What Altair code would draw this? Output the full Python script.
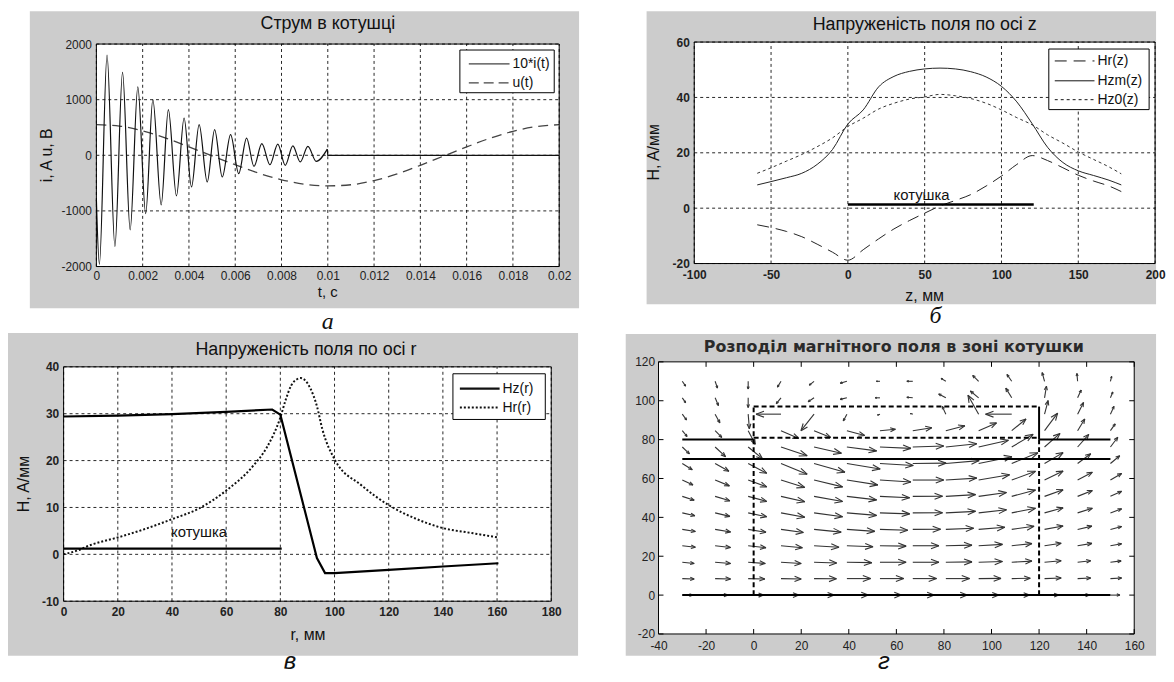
import math
import altair as alt
import pandas as pd

FONT = "Liberation Sans"
SERIF = "Liberation Serif"
PANEL_GRAY = "#cccccc"
INK = "#111111"
ONE = pd.DataFrame({"k": [0]})

# ---------------- panel а : current in the coil ----------------
A_T_OSC = [0, 0.00013, 0.00046, 0.0008, 0.00113, 0.00146, 0.00179, 0.00213, 0.00244, 0.0028,
           0.00311, 0.00346, 0.00379, 0.00411, 0.00444, 0.00479, 0.00511, 0.00544, 0.0058, 0.00615,
           0.00649, 0.00681, 0.00715, 0.0075, 0.00784, 0.00816, 0.00849, 0.00881, 0.00914, 0.0095, 0.00998]
A_I_OSC = [-800, -1960, 1800, -1640, 1490, -1340, 1230, -1050, 1000, -890,
           820, -730, 670, -570, 550, -480, 460, -390, 370, -330,
           310, -200, 210, -170, 200, -180, 170, -120, 160, -110, 110]
A_T_TAIL = [0.00998, 0.01, 0.02]
A_I_TAIL = [110, 0, 0]
A_T_U = [0, 0.001, 0.002, 0.003, 0.004, 0.005, 0.006, 0.007, 0.008, 0.009, 0.01,
         0.011, 0.012, 0.013, 0.014, 0.015, 0.016, 0.017, 0.018, 0.019, 0.02]
A_U = [550, 525, 440, 310, 150, -10, -170, -320, -440, -520, -550,
       -530, -455, -335, -180, -15, 150, 305, 430, 515, 550]
A_XTICKS = [0, 0.002, 0.004, 0.006, 0.008, 0.01, 0.012, 0.014, 0.016, 0.018, 0.02]
A_YTICKS = [-2000, -1000, 0, 1000, 2000]

# ---------------- panel б : field along z ----------------
B_Z = [-59, -50, -40, -30, -20, -10, 0, 10, 20, 30, 40, 50, 60, 70, 80, 90, 100,
       110, 120, 130, 140, 150, 160, 170, 178]
B_HR = [-6, -7, -8.4, -10.3, -13, -15.9, -18.8, -15, -11.1, -7.5, -4.5, -1.8, 0.8,
        2.8, 4.9, 8, 11.6, 15.8, 19, 17.2, 14.6, 11.9, 9.8, 8, 6]
B_HZM = [8.4, 9.6, 11, 12.6, 15.8, 21.2, 30.4, 35.5, 43.8, 47.6, 49.4, 50.3, 50.6,
         50.3, 49.3, 47.4, 44, 38.4, 30.5, 22, 16.5, 13.5, 11.8, 10.1, 8.4]
B_HZ0 = [12.6, 14.6, 17, 19.4, 22.2, 25.4, 29.5, 32.5, 35.8, 37.9, 39.4, 40.2, 41.1,
         40.6, 39.6, 37.9, 35.5, 32.7, 30.1, 26.5, 23.5, 20.3, 17.6, 14.9, 12.4]
B_COIL_Z = [0, 121]
B_COIL_H = [1.3, 1.3]
B_XTICKS = [-100, -50, 0, 50, 100, 150, 200]
B_YTICKS = [-20, 0, 20, 40, 60]

# ---------------- panel в : field along r ----------------
C_R_HZ = [0, 20, 40, 60, 77, 80, 93.5, 96.5, 100, 120, 140, 160.5]
C_HZ = [29.4, 29.6, 29.9, 30.4, 30.9, 29.8, -0.8, -4, -4, -3.3, -2.6, -1.9]
C_R_HR = [0, 5, 10, 20, 30, 40, 50, 60, 70, 75, 80, 82, 84, 86, 87.5, 89, 91, 93.5,
          95.5, 100, 110, 120, 130, 140, 150, 160.5]
C_HR = [0, 0.8, 2, 3.6, 5.4, 7.5, 9.8, 13.6, 18.9, 22.8, 29.2, 33, 36, 37.3, 37.6,
        37.2, 35.5, 31.6, 26.7, 20.3, 14.7, 10.5, 7.6, 5.6, 4.6, 3.6]
C_COIL_R = [0, 80.5]
C_COIL_H = [1.2, 1.2]
C_XTICKS = [0, 20, 40, 60, 80, 100, 120, 140, 160, 180]
C_YTICKS = [-10, 0, 10, 20, 30, 40]

# ---------------- panel г : quiver field ----------------
G_X = [-30, -16.2, -2.3, 11.5, 25.4, 39.2, 53.1, 66.9, 80.8, 94.6, 108.5, 122.3, 136.2, 150]
G_Y = [0, 8.5, 16.9, 25.4, 33.8, 42.3, 50.8, 59.2, 67.7, 76.2, 84.6, 93.1, 101.5, 110]
G_U = [
    [4.5, 5.5, 6.5, 7.5, 8.5, 9, 9, 9, 9, 8.5, 7.5, 6, 5, 4],
    [5, 6.5, 7, 8.5, 9.4, 10, 10, 10, 10, 9.4, 7.8, 7, 5.5, 4.7],
    [5, 6.5, 7.2, 8.5, 9.5, 10.5, 11, 11, 11, 10, 8.5, 7, 5.5, 4.5],
    [5.5, 6.5, 7.5, 9, 10.5, 11, 11, 11, 11, 10, 8.5, 7, 6, 4.7],
    [5.5, 6.5, 7.5, 9.4, 11.4, 11.7, 11.7, 11.7, 11.7, 11, 9.4, 7.8, 6, 4.7],
    [5.3, 6.2, 7.8, 10, 12, 12.5, 12.5, 12.5, 12.5, 11.7, 10, 7.8, 6.2, 4.7],
    [5, 6.2, 7.8, 10, 12, 12.5, 12.5, 12.5, 12.5, 11.7, 10, 7.8, 6.2, 4.7],
    [4.5, 6, 7.8, 10, 12, 13, 13, 13, 13, 13, 10, 7.8, 6.2, 4.7],
    [4.2, 5.8, 7.8, 11, 13, 14, 14, 14, 14, 14, 11, 7.8, 5.5, 3.9],
    [3, 4.4, 6, 11, 11.5, 12.5, 13, 13, 13, 12.5, 9, 6.5, 4.7, 3.1],
    [2, 2.8, 3, 7.5, 7, 7.5, 6.5, 8, 8, 7.5, 6, 5.5, 3, 2],
    [1.8, 2, 0.5, -10.5, -5.5, -1.5, -1, -1, -1.5, -4.5, -11, 1.5, 2.5, 1.5],
    [1.4, 1.4, 0, -2, -2.5, -2.8, -2, -2.5, -3, -3.5, -2.5, 0.8, 1.5, 1],
    [1.4, 1, 0, -1.5, -2, -2.8, -1.5, -2.5, -2, -2.5, -2, -1, -0.3, 0.5],
]
G_V = [
    [0, 0, 0, 0, 0, 0, 0, 0, 0, 0, 0, 0, 0, 0],
    [-0.2, -0.2, -0.2, -0.2, -0.1, 0, 0, 0, 0, 0.1, 0.2, 0.3, 0.3, 0.3],
    [-0.6, -0.6, -0.6, -0.6, -0.4, -0.2, 0, 0, 0.2, 0.4, 0.6, 0.8, 0.8, 0.7],
    [-0.8, -0.9, -1, -1, -0.8, -0.5, -0.2, 0, 0.3, 0.7, 1.1, 1.3, 1.2, 1],
    [-1.1, -1.3, -1.5, -1.6, -1.4, -1, -0.4, 0.1, 0.6, 1.1, 1.6, 1.8, 1.7, 1.5],
    [-1.5, -1.8, -2, -2.2, -2, -1.3, -0.5, 0.1, 0.8, 1.6, 2.4, 2.6, 2.4, 2.1],
    [-2, -2.3, -2.6, -2.8, -2.6, -1.8, -0.7, 0.1, 0.9, 2, 3.3, 3.4, 3, 2.6],
    [-2.5, -3, -3.5, -3.8, -3.5, -2.5, -1, 0, 1, 2.7, 4.5, 4.6, 4, 3.4],
    [-3.2, -4, -5, -5.5, -4.5, -2.8, -1, 0.2, 1.5, 3.5, 5.5, 5.6, 5, 4],
    [-3.5, -5, -6, -4.5, -3.2, -2, -0.7, 0.5, 1.7, 3.5, 6.5, 7, 6.5, 5],
    [-3, -3.5, -7, -4, -3.5, -2.5, 0.7, 1.5, 2.5, 4, 6, 9, 6, 3.5],
    [-3, -4.5, -7.5, 0, -8.5, -3.5, -0.5, 0.3, 4, 9.7, 0, 7, 6, 4],
    [-2.5, -4, -5, -3, -2, -0.8, 0, 0.3, 2, 3.5, 5, 6, 4, 3],
    [-2.5, -3.5, -4, -3, -2, -1, 0, 0, 1.5, 3, 3.5, 4.5, 4, 2.5],
]
G_SOLID = [(-30, 0, 150, 0), (-30, 70, 150, 70), (-30, 80, 0, 80), (120, 80, 150, 80), (120, 80, 120, 97)]
G_DASHED = [(0, 0, 0, 97), (0, 97, 120, 97), (0, 81, 120, 81), (120, 0, 120, 80)]
G_XTICKS = [-40, -20, 0, 20, 40, 60, 80, 100, 120, 140, 160]
G_YTICKS = [-20, 0, 20, 40, 60, 80, 100, 120]

# every panel lives in a cell of the same size; the plot frame inside it is set by scale ranges
CELL_W, CELL_H = 500, 274


# ---------------- helpers ----------------
def make_axis(values, bold=False, offset=0, pad=4):
    kw = dict(values=values, title=None, domain=False, ticks=False, grid=False,
              labelFont=FONT, labelFontSize=12, labelFontWeight="bold" if bold else "normal",
              labelColor="#222222", labelPadding=pad, labelFlush=False, labelOverlap=False,
              labelExpr="'' + datum.value", zindex=1)
    if offset:
        kw["offset"] = offset
    return alt.Axis(**kw)


def gray_bg(x0, x1, y0, y1):
    return alt.Chart(ONE).mark_rect(fill=PANEL_GRAY, strokeWidth=0).encode(
        x=alt.value(x0), x2=alt.value(x1), y=alt.value(y0), y2=alt.value(y1))


def text_at(s, x, y, size=15, angle=0, font=FONT, style="normal", weight="normal", align="center",
            color=INK):
    return alt.Chart(ONE).mark_text(text=s, fontSize=size, font=font, fontStyle=style,
                                    fontWeight=weight, angle=angle, align=align,
                                    baseline="middle", color=color).encode(
        x=alt.value(x), y=alt.value(y))


def legend_box(box, entries, size=13):
    x0, x1, y0, y1 = box
    layers = [alt.Chart(ONE).mark_rect(fill="white", stroke="#000000", strokeWidth=1).encode(
        x=alt.value(x0), x2=alt.value(x1), y=alt.value(y0), y2=alt.value(y1))]
    for lab, ly, lx0, lx1, tx, style in entries:
        kw = dict(color=style.get("color", INK), strokeWidth=style.get("width", 1))
        if style.get("dash"):
            kw["strokeDash"] = style["dash"]
        layers.append(alt.Chart(ONE).mark_rule(**kw).encode(
            x=alt.value(lx0), x2=alt.value(lx1), y=alt.value(ly)))
        layers.append(text_at(lab, tx, ly, size=size, align="left"))
    return layers


class Frame:
    def __init__(self, xlim, ylim, xaxis, yaxis, xrange, yrange):
        self.sx = alt.Scale(domain=xlim, nice=False, zero=False, range=xrange)
        self.sy = alt.Scale(domain=ylim, nice=False, zero=False, range=yrange)
        self.ax = xaxis
        self.ay = yaxis
        self.xlim = xlim
        self.ylim = ylim

    def X(self, f):
        return alt.X(f"{f}:Q", scale=self.sx, axis=self.ax)

    def Y(self, f):
        return alt.Y(f"{f}:Q", scale=self.sy, axis=self.ay)

    def _lim_df(self):
        return pd.DataFrame({"x0": [self.xlim[0]], "x1": [self.xlim[1]],
                             "y0": [self.ylim[0]], "y1": [self.ylim[1]]})

    def plot_bg(self):
        return alt.Chart(self._lim_df()).mark_rect(fill="white", strokeWidth=0).encode(
            x=self.X("x0"), x2="x1", y=self.Y("y0"), y2="y1")

    def plot_box(self):
        return alt.Chart(self._lim_df()).mark_rect(fillOpacity=0, stroke="#000000", strokeWidth=1).encode(
            x=self.X("x0"), x2="x1", y=self.Y("y0"), y2="y1")

    def grid(self, xt, yt):
        style = dict(color="#000000", strokeDash=[3, 3], opacity=0.85, strokeWidth=1)
        dfx = pd.DataFrame({"v": xt, "a": [self.ylim[0]] * len(xt), "b": [self.ylim[1]] * len(xt)})
        dfy = pd.DataFrame({"v": yt, "a": [self.xlim[0]] * len(yt), "b": [self.xlim[1]] * len(yt)})
        return [
            alt.Chart(dfx).mark_rule(**style).encode(x=self.X("v"), y=self.Y("a"), y2="b"),
            alt.Chart(dfy).mark_rule(**style).encode(y=self.Y("v"), x=self.X("a"), x2="b"),
        ]

    def line(self, xs, ys, interp="linear", **style):
        df = pd.DataFrame({"px": xs, "py": ys, "o": list(range(len(xs)))})
        return alt.Chart(df).mark_line(interpolate=interp, **style).encode(
            x=self.X("px"), y=self.Y("py"), order="o:Q")


# ---------------- panel а ----------------
FA = Frame([0, 0.02], [-2000, 2000],
           make_axis(A_XTICKS, offset=-(CELL_H - 226)), make_axis(A_YTICKS, offset=-33, pad=5),
           [33, 499], [226, 2])
panel_a = alt.layer(
    gray_bg(-34, 519, -31, 268),
    FA.plot_bg(),
    *FA.grid(A_XTICKS, A_YTICKS),
    FA.line(A_T_U, A_U, "monotone", color="#444444", strokeWidth=1.3, strokeDash=[10, 6]),
    FA.line(A_T_OSC, A_I_OSC, "monotone", color=INK, strokeWidth=1.2),
    FA.line(A_T_TAIL, A_I_TAIL, color=INK, strokeWidth=1.2),
    *legend_box((399, 494, 8, 51), [
        ("10*i(t)", 22, 408, 449, 452, {}),
        ("u(t)", 41, 408, 449, 452, {"dash": [10, 5], "color": "#444444", "width": 1.3}),
    ], size=14),
    FA.plot_box(),
    text_at("Струм в котушці", 266, -18, size=18),
    text_at("i, A  u, B", -17, 114, size=16, angle=270),
    text_at("t, c", 266, 252, size=15),
    text_at("а", 266, 282, size=24, font=SERIF, style="italic"),
).properties(width=CELL_W, height=CELL_H)

# ---------------- panel б ----------------
FB = Frame([-100, 200], [-20, 60],
           make_axis(B_XTICKS, bold=True, offset=-(CELL_H - 223), pad=6),
           make_axis(B_YTICKS, bold=True, pad=5, offset=-36),
           [36, 500], [223, 0])
panel_b = alt.layer(
    gray_bg(-12, 501, -31, 264),
    FB.plot_bg(),
    *FB.grid(B_XTICKS, B_YTICKS),
    FB.line(B_Z, B_HZ0, "monotone", color="#333333", strokeWidth=1, strokeDash=[3, 3]),
    FB.line(B_Z, B_HZM, "monotone", color="#222222", strokeWidth=1),
    FB.line(B_Z, B_HR, "monotone", color="#222222", strokeWidth=1, strokeDash=[12, 7]),
    FB.line(B_COIL_Z, B_COIL_H, color="#000000", strokeWidth=2.5),
    alt.Chart(pd.DataFrame({"px": [48], "py": [4.6], "t": ["котушка"]})).mark_text(
        fontSize=15, font=FONT, color=INK, baseline="middle").encode(
        x=FB.X("px"), y=FB.Y("py"), text="t:N"),
    *legend_box((393, 494, 7, 68), [
        ("Hr(z)", 19, 399, 439, 442, {"dash": [12, 7]}),
        ("Hzm(z)", 39, 399, 439, 442, {}),
        ("Hz0(z)", 58, 399, 439, 442, {"dash": [3, 3]}),
    ], size=14),
    FB.plot_box(),
    text_at("Напруженість поля по осі z", 268, -17, size=18),
    text_at("H, A/мм", -5, 111, size=16, angle=270),
    text_at("z, мм", 268, 256, size=16),
    text_at("б", 279, 276, size=24, font=SERIF, style="italic"),
).properties(width=CELL_W, height=CELL_H)

# ---------------- panel в ----------------
FC = Frame([0, 180], [-10, 40],
           make_axis(C_XTICKS, bold=True, offset=-(CELL_H - 241), pad=5),
           make_axis(C_YTICKS, bold=True, pad=5),
           [0, 491], [241, 5])
panel_c = alt.layer(
    gray_bg(-56, 518, -29, 296),
    FC.plot_bg(),
    *FC.grid(C_XTICKS, C_YTICKS),
    FC.line(C_R_HR, C_HR, "monotone", color="#111111", strokeWidth=2, strokeDash=[2, 2]),
    FC.line(C_R_HZ, C_HZ, color="#000000", strokeWidth=2.2),
    FC.line(C_COIL_R, C_COIL_H, color="#000000", strokeWidth=2.2),
    alt.Chart(pd.DataFrame({"px": [50], "py": [4.7], "t": ["котушка"]})).mark_text(
        fontSize=15, font=FONT, color=INK, baseline="middle").encode(
        x=FC.X("px"), y=FC.Y("py"), text="t:N"),
    *legend_box((392, 485, 12, 58), [
        ("Hz(r)", 27, 399, 439, 442, {"width": 2.2}),
        ("Hr(r)", 46, 399, 439, 442, {"dash": [2, 2], "width": 2}),
    ], size=14),
    FC.plot_box(),
    text_at("Напруженість поля по осі r", 244, -12, size=18),
    text_at("H, A/мм", -40, 123, size=16, angle=270),
    text_at("r, мм", 246, 275, size=16),
    text_at("в", 228, 302, size=24, font=FONT, style="italic"),
).properties(width=CELL_W, height=CELL_H)

# ---------------- panel г ----------------
GW, GH = 479, 274
KX, KY = GW / 200.0, GH / 140.0
segs = []
for j, yv in enumerate(G_Y):
    for i, xv in enumerate(G_X):
        dx, dy = G_U[j][i], G_V[j][i]
        ex, ey = xv + dx, yv + dy
        segs.append((xv, yv, ex, ey))
        px, py = dx * KX, dy * KY
        L = math.hypot(px, py)
        if L > 1:
            ux, uy = px / L, py / L
            hl, hw = min(0.33 * L, 8), min(0.13 * L, 3)
            for s in (1, -1):
                bx = -ux * hl - s * uy * hw
                by = -uy * hl + s * ux * hw
                segs.append((ex, ey, ex + bx / KX, ey + by / KY))
arrow_df = pd.DataFrame(segs, columns=["x1", "y1", "x2", "y2"])
solid_df = pd.DataFrame(G_SOLID, columns=["x1", "y1", "x2", "y2"])
dashed_df = pd.DataFrame(G_DASHED, columns=["x1", "y1", "x2", "y2"])

FG = Frame([-40, 160], [-20, 120], make_axis(G_XTICKS, pad=7),
           make_axis(G_YTICKS, pad=4), [0, GW], [GH, 0])
gx_df = pd.DataFrame({"v": G_XTICKS})
gy_df = pd.DataFrame({"v": G_YTICKS})
panel_d = alt.layer(
    gray_bg(-33, 501, -28, 296),
    FG.plot_bg(),
    alt.Chart(arrow_df).mark_rule(color="#333333", strokeWidth=1.1).encode(
        x=FG.X("x1"), y=FG.Y("y1"), x2="x2", y2="y2"),
    alt.Chart(solid_df).mark_rule(color="#000000", strokeWidth=2).encode(
        x=FG.X("x1"), y=FG.Y("y1"), x2="x2", y2="y2"),
    alt.Chart(dashed_df).mark_rule(color="#000000", strokeWidth=2, strokeDash=[5, 3]).encode(
        x=FG.X("x1"), y=FG.Y("y1"), x2="x2", y2="y2"),
    alt.Chart(gx_df).mark_rule(color="#000000").encode(x=FG.X("v"), y=alt.value(GH), y2=alt.value(GH - 5)),
    alt.Chart(gx_df).mark_rule(color="#000000").encode(x=FG.X("v"), y=alt.value(0), y2=alt.value(5)),
    alt.Chart(gy_df).mark_rule(color="#000000").encode(y=FG.Y("v"), x=alt.value(0), x2=alt.value(5)),
    alt.Chart(gy_df).mark_rule(color="#000000").encode(y=FG.Y("v"), x=alt.value(GW), x2=alt.value(GW - 5)),
    FG.plot_box(),
    text_at("Розподіл магнітного поля в зоні котушки", 237, -15, size=16, font="DejaVu Sans",
            weight="bold", color="#2a2a2a"),
    text_at("г", 227, 302, size=24, font=FONT, style="italic"),
).properties(width=CELL_W, height=CELL_H)

chart = alt.concat(
    panel_a, panel_b, panel_c, panel_d,
    columns=2, spacing={"row": 48, "column": 99}, bounds="flush", align="all",
).properties(
    padding={"left": 0, "top": 1, "right": 0, "bottom": 0},
    background="white",
).configure_view(stroke=None)

chart.save("out.html", embed_options={"renderer": "svg", "actions": False})
